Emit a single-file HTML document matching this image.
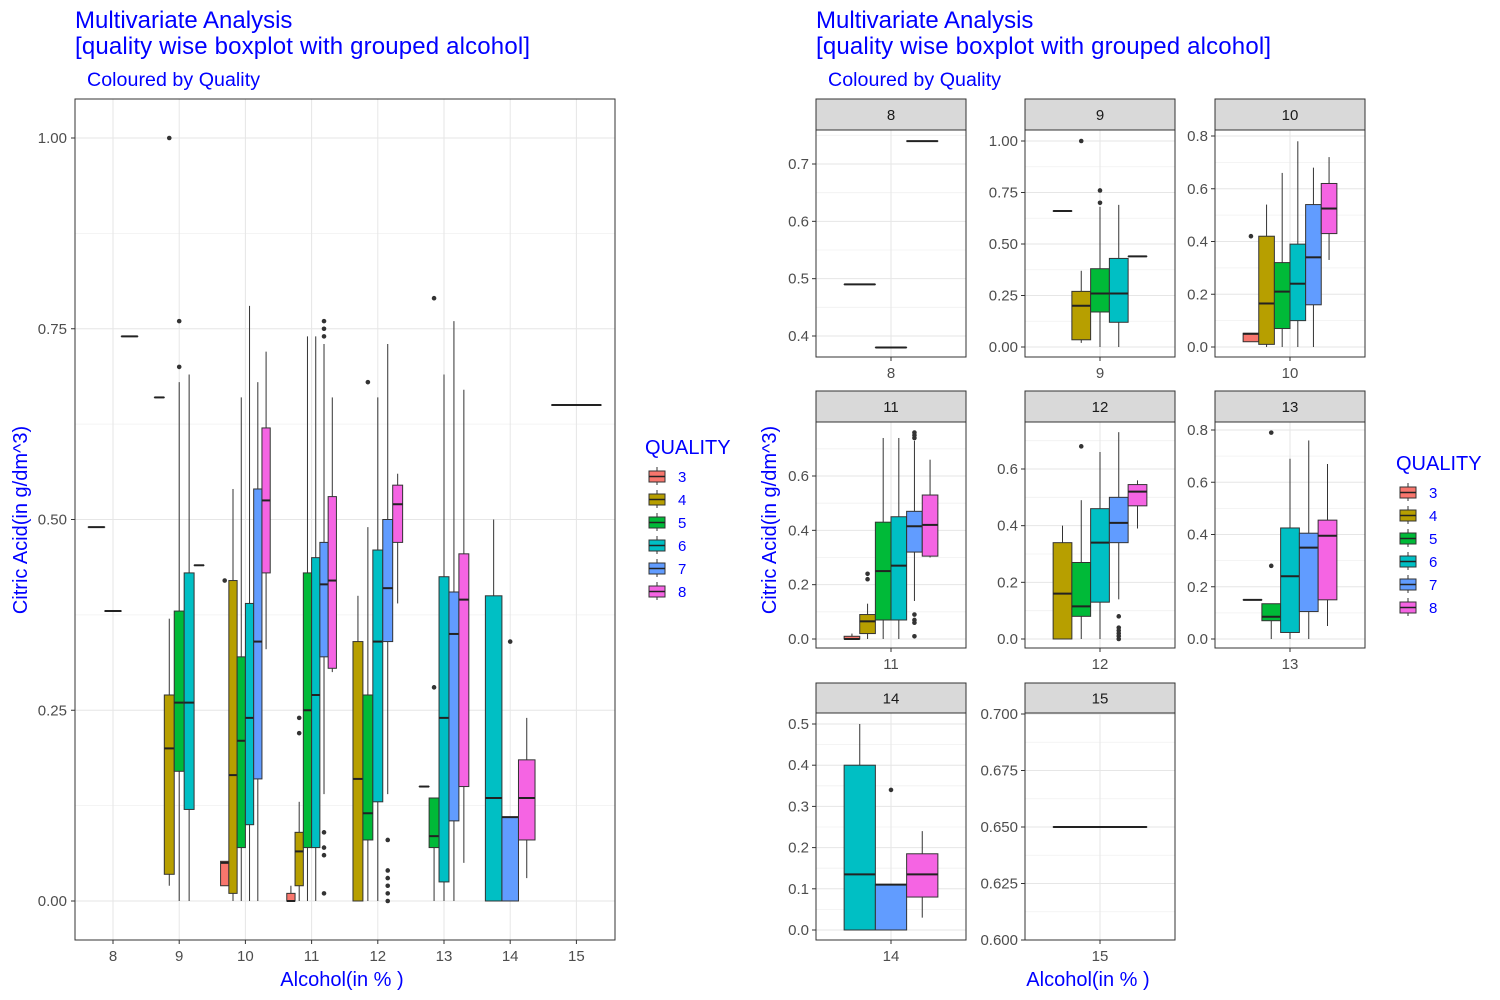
<!DOCTYPE html>
<html><head><meta charset="utf-8">
<style>
html,body{margin:0;padding:0;background:#fff;}
svg{display:block;font-family:"Liberation Sans",Arial,sans-serif;}
</style></head>
<body>
<svg id="chart" width="1500" height="1000" viewBox="0 0 1500 1000">
<g fill="#0000FF">
<text x="75" y="28" font-size="24">Multivariate Analysis</text>
<text x="75" y="54" font-size="24" textLength="455">[quality wise boxplot with grouped alcohol]</text>
<text x="87" y="86" font-size="19.6" textLength="173">Coloured by Quality</text>
<text x="342" y="986" font-size="20" text-anchor="middle">Alcohol(in % )</text>
<text transform="translate(27,520) rotate(-90)" font-size="20" text-anchor="middle">Citric Acid(in g/dm^3)</text>
</g>
<g fill="#0000FF">
<text x="816" y="28" font-size="24">Multivariate Analysis</text>
<text x="816" y="54" font-size="24" textLength="455">[quality wise boxplot with grouped alcohol]</text>
<text x="828" y="86" font-size="19.6" textLength="173">Coloured by Quality</text>
<text x="1088" y="986" font-size="20" text-anchor="middle">Alcohol(in % )</text>
<text transform="translate(776,520) rotate(-90)" font-size="20" text-anchor="middle">Citric Acid(in g/dm^3)</text>
</g>
<g id="left-plot"></g>
<g id="facets"></g>
<g id="legends"></g>
</svg>
<script>
// ---- data ----
const alcoholLevels = [8, 9, 10, 11, 12, 13, 14, 15];
const qualityLevels = [3, 4, 5, 6, 7, 8];
const qualityColors = ["#F8766D", "#B79F00", "#00BA38", "#00BFC4", "#619CFF", "#F564E3"];
// [quality, lowerWhisker, q1, median, q3, upperWhisker, outliers]
const stats8 = [[5,0.49,0.49,0.49,0.49,0.49,[]],[6,0.38,0.38,0.38,0.38,0.38,[]],[7,0.74,0.74,0.74,0.74,0.74,[]]];
const stats9 = [[3,0.66,0.66,0.66,0.66,0.66,[]],[4,0.02,0.035,0.20,0.27,0.37,[1.00]],[5,0.0,0.17,0.26,0.38,0.68,[0.70,0.76]],[6,0.0,0.12,0.26,0.43,0.69,[]],[7,0.44,0.44,0.44,0.44,0.44,[]]];
const stats10 = [[3,0.02,0.02,0.05,0.052,0.052,[0.42]],[4,0.0,0.01,0.165,0.42,0.54,[]],[5,0.0,0.07,0.21,0.32,0.66,[]],[6,0.0,0.10,0.24,0.39,0.78,[]],[7,0.0,0.16,0.34,0.54,0.68,[]],[8,0.33,0.43,0.525,0.62,0.72,[]]];
const stats11 = [[3,0.0,0.0,0.0,0.01,0.02,[]],[4,0.0,0.02,0.065,0.09,0.13,[0.22,0.24]],[5,0.0,0.07,0.25,0.43,0.74,[]],[6,0.0,0.07,0.27,0.45,0.74,[]],[7,0.14,0.32,0.415,0.47,0.73,[0.74,0.75,0.76,0.09,0.07,0.06,0.01]],[8,0.30,0.305,0.42,0.53,0.66,[]]];
const stats12 = [[4,0.0,0.0,0.16,0.34,0.40,[]],[5,0.0,0.08,0.115,0.27,0.49,[0.68]],[6,0.0,0.13,0.34,0.46,0.66,[]],[7,0.14,0.34,0.41,0.50,0.73,[0.08,0.04,0.03,0.02,0.01,0.0]],[8,0.39,0.47,0.52,0.545,0.56,[]]];
const stats13 = [[4,0.15,0.15,0.15,0.15,0.15,[]],[5,0.0,0.07,0.085,0.135,0.135,[0.28,0.79]],[6,0.0,0.025,0.24,0.425,0.69,[]],[7,0.0,0.105,0.35,0.405,0.76,[]],[8,0.05,0.15,0.395,0.455,0.67,[]]];
const stats14 = [[6,0.0,0.0,0.135,0.40,0.50,[]],[7,0.0,0.0,0.11,0.11,0.11,[0.34]],[8,0.03,0.08,0.135,0.185,0.24,[]]];
const stats15 = [[6,0.65,0.65,0.65,0.65,0.65,[]]];
const groupStats = [stats8, stats9, stats10, stats11, stats12, stats13, stats14, stats15];
const leftYTicks = [0, 0.25, 0.5, 0.75, 1.0];
const leftYLabels = ["0.00", "0.25", "0.50", "0.75", "1.00"];
// facet y ticks
const facetTicks8 = [0.4, 0.5, 0.6, 0.7];
const facetTicks9 = [0, 0.25, 0.5, 0.75, 1.0];
const facetTicks10 = [0, 0.2, 0.4, 0.6, 0.8];
const facetTicks11 = [0, 0.2, 0.4, 0.6];
const facetTicks12 = [0, 0.2, 0.4, 0.6];
const facetTicks13 = [0, 0.2, 0.4, 0.6, 0.8];
const facetTicks14 = [0, 0.1, 0.2, 0.3, 0.4, 0.5];
const facetTicks15 = [0.6, 0.625, 0.65, 0.675, 0.7];
const facetTickDigits = [1, 2, 1, 1, 1, 1, 1, 3];
const facetTickSets = [facetTicks8, facetTicks9, facetTicks10, facetTicks11, facetTicks12, facetTicks13, facetTicks14, facetTicks15];

// ---- layout ----
const NS = "http://www.w3.org/2000/svg";
function mk(tag, attrs, parent) {
  const e = document.createElementNS(NS, tag);
  for (const k in attrs) e.setAttribute(k, attrs[k]);
  parent.appendChild(e);
  return e;
}
const facetPx = [[336,164],[347,141],[347,136],[639,476],[639,469],[639,430],[930,724],[940,714]];
const facetCols = [816, 1025, 1215];
const facetW = 150;
const facetRows = [[99,130,357],[391,422,648],[683,713,940]];
const TICK_FS = 15;

function drawBoxes(g, stats, cx, totalW, ys) {
  const n = stats.length, w = totalW / n;
  stats.forEach((s, i) => {
    const c = cx - totalW / 2 + w * (i + 0.5);
    const col = qualityColors[qualityLevels.indexOf(s[0])];
    const bg = mk("g", {}, g);
    
    
    mk("line", {x1:c, x2:c, y1:ys(s[1]), y2:ys(s[2]), stroke:"#333", "stroke-width":1}, bg);
    mk("line", {x1:c, x2:c, y1:ys(s[4]), y2:ys(s[5]), stroke:"#333", "stroke-width":1}, bg);
    mk("rect", {x:c - w/2, y:ys(s[4]), width:w, height:Math.max(0.01, ys(s[2]) - ys(s[4])), fill:col, stroke:"#333", "stroke-width":1}, bg);
    mk("line", {x1:c - w/2, x2:c + w/2, y1:ys(s[3]), y2:ys(s[3]), stroke:"#222", "stroke-width":2}, bg);
    s[6].forEach(o => {
      const p = mk("circle", {cx:c, cy:ys(o), r:2.3, fill:"#333"}, bg);
      
      
    });
  });
}

function gridAndFrame(g, x0, x1, y0, y1, ticks, ys, xs) {
  const step = ticks[1] - ticks[0];
  const minors = [ticks[0] - step/2].concat(ticks.map(t => t + step/2));
  minors.forEach(t => { const y = ys(t); if (y > y0 && y < y1) mk("line", {x1:x0, x2:x1, y1:y, y2:y, stroke:"#f0f0f0", "stroke-width":0.8}, g); });
  ticks.forEach(t => { const y = ys(t); mk("line", {x1:x0, x2:x1, y1:y, y2:y, stroke:"#e6e6e6", "stroke-width":1}, g); });
  xs.forEach(x => mk("line", {x1:x, x2:x, y1:y0, y2:y1, stroke:"#e6e6e6", "stroke-width":1}, g));
}

// ---- left plot ----
(function(){
  const g = document.getElementById("left-plot");
  const X0 = 75, X1 = 615, Y0 = 99, Y1 = 940;
  const ys = v => 901 - v * 763;
  const xs = a => 113 + (a - 8) * 66.2;
  gridAndFrame(g, X0, X1, Y0, Y1, leftYTicks, ys, alcoholLevels.map(xs));
  alcoholLevels.forEach((a, i) => {
    const gg = mk("g", {}, g);
    
    
    drawBoxes(gg, groupStats[i], xs(a), 66.2 * 0.75, ys);
    mk("line", {x1:xs(a), x2:xs(a), y1:Y1, y2:Y1+4, stroke:"#333"}, g);
    const t = mk("text", {x:xs(a), y:961, "font-size":TICK_FS, fill:"#4d4d4d", "text-anchor":"middle"}, g);
    t.textContent = a;
    
    
  });
  leftYTicks.forEach((v, i) => {
    mk("line", {x1:X0-4, x2:X0, y1:ys(v), y2:ys(v), stroke:"#333"}, g);
    const t = mk("text", {x:X0-8, y:ys(v)+5, "font-size":TICK_FS, fill:"#4d4d4d", "text-anchor":"end"}, g);
    t.textContent = leftYLabels[i];
    
    
  });
  mk("rect", {x:X0, y:Y0, width:X1-X0, height:Y1-Y0, fill:"none", stroke:"#333", "stroke-width":1}, g);
})();

// ---- facets ----
(function(){
  const root = document.getElementById("facets");
  alcoholLevels.forEach((a, i) => {
    const r = Math.floor(i / 3), c = i % 3;
    const x0 = facetCols[c], x1 = x0 + facetW;
    const [sTop, pTop, pBot] = facetRows[r];
    const ticks = facetTickSets[i];
    const [p0, p1] = facetPx[i];
    const t0 = ticks[0], t1 = ticks[ticks.length - 1];
    const ys = v => p0 + (v - t0) * (p1 - p0) / (t1 - t0);
    const cx = x0 + facetW / 2;
    const g = mk("g", {}, root);
    
    
    gridAndFrame(g, x0, x1, pTop, pBot, ticks, ys, [cx]);
    drawBoxes(g, groupStats[i], cx, facetW / 1.2 * 0.75, ys);
    mk("rect", {x:x0, y:pTop, width:facetW, height:pBot-pTop, fill:"none", stroke:"#333", "stroke-width":1}, g);
    const strip = mk("rect", {x:x0, y:sTop, width:facetW, height:pTop-sTop, fill:"#d9d9d9", stroke:"#333", "stroke-width":1}, g);
    
    
    const st = mk("text", {x:cx, y:(sTop+pTop)/2+5.5, "font-size":15, fill:"#1a1a1a", "text-anchor":"middle"}, g);
    st.textContent = a;
    
    
    ticks.forEach(v => {
      mk("line", {x1:x0-4, x2:x0, y1:ys(v), y2:ys(v), stroke:"#333"}, g);
      const t = mk("text", {x:x0-7, y:ys(v)+5, "font-size":TICK_FS, fill:"#4d4d4d", "text-anchor":"end"}, g);
      t.textContent = v.toFixed(facetTickDigits[i]);
      
      
    });
    mk("line", {x1:cx, x2:cx, y1:pBot, y2:pBot+4, stroke:"#333"}, g);
    const xt = mk("text", {x:cx, y:pBot+21, "font-size":TICK_FS, fill:"#4d4d4d", "text-anchor":"middle"}, g);
    xt.textContent = a;
    
    
  });
})();

// ---- legends ----
(function(){
  const root = document.getElementById("legends");
  [[645, 454], [1396, 470]].forEach((pos, li) => {
    const g = mk("g", {}, root);
    
    
    const tt = mk("text", {x:pos[0], y:pos[1], "font-size":20, fill:"#0000FF"}, g);
    tt.textContent = "QUALITY";
    
    
    qualityLevels.forEach((q, k) => {
      const y = pos[1] + 14 + k * 23;
      const e = mk("g", {}, g);
      
      
      const kx = pos[0] + 3;
      mk("line", {x1:kx+9, x2:kx+9, y1:y-1, y2:y+17, stroke:"#333"}, e);
      mk("rect", {x:kx+1, y:y+3, width:16, height:11, fill:qualityColors[k], stroke:"#333"}, e);
      mk("line", {x1:kx+1, x2:kx+17, y1:y+8.5, y2:y+8.5, stroke:"#222", "stroke-width":1.5}, e);
      const t = mk("text", {x:kx+30, y:y+14, "font-size":15, fill:"#0000FF"}, e);
      t.textContent = q;
    });
  });
})();
</script>
</body></html>
